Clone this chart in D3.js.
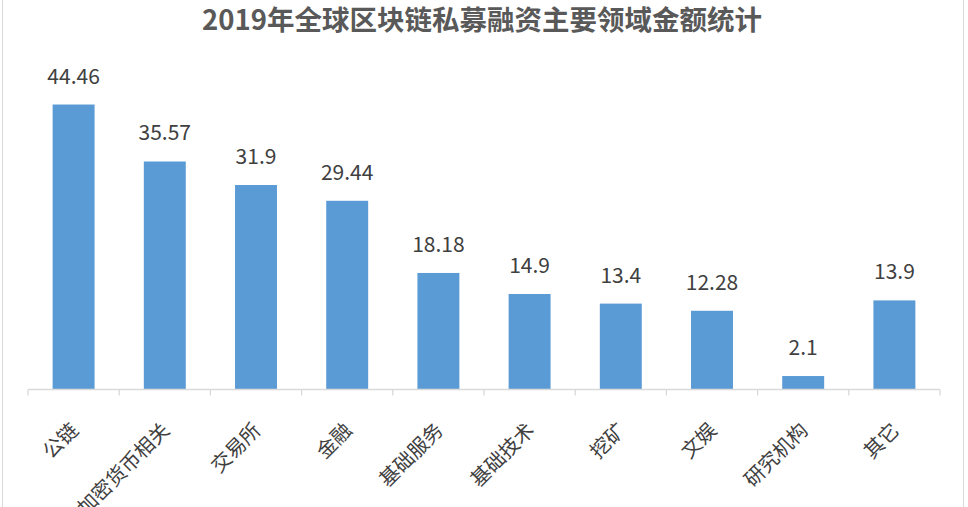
<!DOCTYPE html>
<html><head><meta charset="utf-8">
<script src="https://cdn.jsdelivr.net/npm/d3@7"></script>
<style>html,body{margin:0;padding:0;background:#fff;}svg{display:block;}</style>
</head><body>
<script>
const title = "2019年全球区块链私募融资主要领域金额统计";
const categories = ["公链","加密货币相关","交易所","金融","基础服务","基础技术","挖矿","文娱","研究机构","其它"];
const values = [44.46, 35.57, 31.9, 29.44, 18.18, 14.9, 13.4, 12.28, 2.1, 13.9];
const valueLabels = ["44.46","35.57","31.9","29.44","18.18","14.9","13.4","12.28","2.1","13.9"];

const W = 968, H = 507;
const svg = d3.select("body").append("svg").attr("width", W).attr("height", H);
const font = "'Noto Sans CJK SC','Microsoft YaHei',sans-serif";

svg.append("rect").attr("x",2.5).attr("y",-1).attr("width",961).attr("height",H+2)
  .attr("fill","#fff").attr("stroke","#d9d9d9").attr("stroke-width",1);

svg.append("text").attr("x",482).attr("y",30).attr("text-anchor","middle")
  .attr("font-family",font).attr("font-weight","bold").attr("font-size",27.5)
  .attr("fill","#595959").text(title);

const x0 = 28, x1 = 940, yBase = 389.5;
const x = d3.scaleBand().domain(categories).range([x0, x1]).paddingInner(0.54).paddingOuter(0.27);
const y = d3.scaleLinear().domain([0, 50]).range([yBase, yBase - 320.5]);

svg.append("g").selectAll("rect").data(values).join("rect")
  .attr("x",(d,i)=>x(categories[i])).attr("width",x.bandwidth())
  .attr("y",d=>y(d)).attr("height",d=>yBase-y(d)).attr("fill","#5b9bd5");

svg.append("g").selectAll("text").data(values).join("text")
  .attr("x",(d,i)=>x(categories[i])+x.bandwidth()/2).attr("y",d=>y(d)-21)
  .attr("text-anchor","middle").attr("font-family",font).attr("font-size",21)
  .attr("fill","#404040").text((d,i)=>valueLabels[i]);

// axis
const step = (x1 - x0) / categories.length;
const ax = svg.append("g");
ax.append("line").attr("x1",x0).attr("x2",x1).attr("y1",yBase).attr("y2",yBase)
  .attr("stroke","#d9d9d9").attr("stroke-width",1.3);
ax.selectAll("line.tick").data(d3.range(categories.length+1)).join("line").attr("class","tick")
  .attr("x1",i=>x0+i*step).attr("x2",i=>x0+i*step).attr("y1",yBase).attr("y2",yBase+6)
  .attr("stroke","#d9d9d9").attr("stroke-width",1.3);

svg.append("g").selectAll("text").data(categories).join("text")
  .attr("transform",d=>`translate(${x(d)+x.bandwidth()/2-7},${yBase+29}) rotate(-45)`)
  .attr("text-anchor","end").attr("dominant-baseline","hanging")
  .attr("font-family",font).attr("font-size",20).attr("fill","#404040").text(d=>d);
</script>
</body></html>
